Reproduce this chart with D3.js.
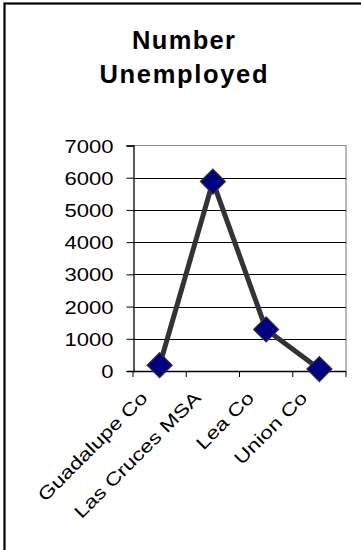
<!DOCTYPE html>
<html>
<head>
<meta charset="utf-8">
<script src="https://cdn.jsdelivr.net/npm/d3@7"></script>
<style>
  html, body { margin: 0; padding: 0; background: #fff; }
  svg { display: block; }
  text { font-family: "Liberation Sans", Arial, sans-serif; fill: #000; }
</style>
</head>
<body>
<svg id="chart" width="361" height="550"></svg>
<script>
// Unemployment counts by area
const categories = ["Guadalupe Co", "Las Cruces MSA", "Lea Co", "Union Co"];
const unemployed = [180, 5880, 1290, 60];
const yTicks = [0, 1000, 2000, 3000, 4000, 5000, 6000, 7000];
const titleLines = ["Number", "Unemployed"];

const svg = d3.select("#chart");

// outer chart frame (only its top and left edges fall inside the view)
svg.append("rect")
  .attr("x", 4.5).attr("y", 3.5)
  .attr("width", 420).attr("height", 620)
  .attr("fill", "#fff").attr("stroke", "#000").attr("stroke-width", 2.2);

const plot = { left: 133, right: 346, top: 145.5, bottom: 371 };

const x = d3.scaleBand().domain(categories).range([plot.left, plot.right]).padding(0);
const y = d3.scaleLinear().domain([0, 7000]).range([plot.bottom, plot.top]);

// title
const titleWidths = [103, 168];
const titleBase = [48.5, 82.5];
titleLines.forEach((t, i) => {
  svg.append("text")
    .attr("x", 183.5).attr("y", titleBase[i])
    .attr("text-anchor", "middle")
    .attr("font-size", 25.5).attr("font-weight", "bold")
    .attr("textLength", titleWidths[i]).attr("lengthAdjust", "spacing")
    .text(t);
});

// plot area border (grey top and right)
svg.append("path")
  .attr("d", `M${plot.left},${plot.top}H${plot.right}V${plot.bottom}`)
  .attr("fill", "none").attr("stroke", "#8c8c8c").attr("stroke-width", 1.2);

// horizontal gridlines
svg.append("g").selectAll("line")
  .data(yTicks.filter(v => v > 0 && v < 7000))
  .join("line")
  .attr("x1", plot.left).attr("x2", plot.right)
  .attr("y1", d => Math.round(y(d)) + 0.5).attr("y2", d => Math.round(y(d)) + 0.5)
  .attr("stroke", "#000").attr("stroke-width", 1);

// y axis
const yAxis = svg.append("g")
  .attr("transform", `translate(${plot.left + 0.5},0)`)
  .call(d3.axisLeft(y).tickValues(yTicks).tickSize(7).tickPadding(0).tickFormat(d3.format("d")));
yAxis.select(".domain").attr("stroke", "#000").attr("stroke-width", 1.3);
yAxis.selectAll(".tick line").attr("stroke", "#000").attr("stroke-width", 1);
yAxis.selectAll(".tick text").remove();
yAxis.selectAll(".tick").append("text")
  .attr("text-anchor", "end")
  .attr("font-size", 17.5)
  .attr("fill", "#000")
  .attr("transform", "translate(-20,6.5) scale(1.26,1)")
  .text(d => d3.format("d")(d));

// x axis with ticks at category boundaries
const xEdges = categories.map(c => x(c)).concat([plot.right]);
const xAxis = svg.append("g");
xAxis.append("line")
  .attr("x1", plot.left).attr("x2", plot.right)
  .attr("y1", plot.bottom + 0.5).attr("y2", plot.bottom + 0.5)
  .attr("stroke", "#000").attr("stroke-width", 1.3);
xAxis.selectAll("line.tk").data(xEdges).join("line").attr("class", "tk")
  .attr("x1", d => d).attr("x2", d => d)
  .attr("y1", plot.bottom).attr("y2", plot.bottom + 6)
  .attr("stroke", "#000").attr("stroke-width", 1);

// rotated category labels
xAxis.selectAll("text").data(categories).join("text")
  .attr("text-anchor", "end")
  .attr("font-size", 18)
  .attr("transform", d => `translate(${x(d) + x.bandwidth() / 2 - 11},${plot.bottom + 28}) rotate(-45) scale(1.26,1)`)
  .text(d => d);

// series line
const pts = categories.map((c, i) => [x(c) + x.bandwidth() / 2, y(unemployed[i])]);
svg.append("path")
  .attr("d", d3.line()(pts))
  .attr("fill", "none").attr("stroke", "#333333")
  .attr("stroke-width", 5).attr("stroke-linejoin", "miter");

// diamond markers
const s = 12.5;
svg.append("g").selectAll("path")
  .data(pts)
  .join("path")
  .attr("d", d => `M${d[0]},${d[1] - s}L${d[0] + s},${d[1]}L${d[0]},${d[1] + s}L${d[0] - s},${d[1]}Z`)
  .attr("fill", "#000080").attr("stroke", "#333333").attr("stroke-width", 1.2);
</script>
</body>
</html>
